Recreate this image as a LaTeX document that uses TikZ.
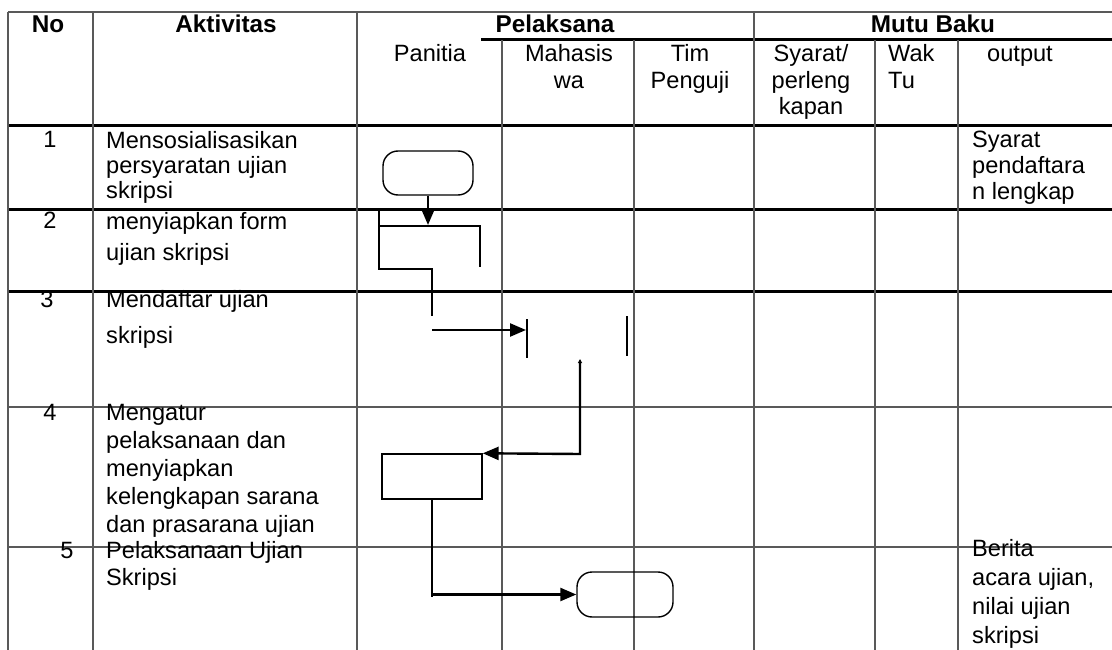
\documentclass[tikz,border=0pt]{standalone}
\usepackage{fontspec}
\setmainfont{Liberation Sans}
\setlength{\parindent}{0pt}
\usetikzlibrary{arrows.meta}
\tikzset{
  gridthin/.style={line width=1.2pt, draw=black!65},
  gridthick/.style={line width=3pt, draw=black},
  txt/.style={font=\fontsize{23.6}{26.5}\selectfont, inner sep=0pt, anchor=base west, align=left},
  ctxt/.style={font=\fontsize{23.6}{26.5}\selectfont, inner sep=0pt, anchor=base, align=center},
  hd/.style={font=\fontsize{24.3}{26.5}\selectfont\bfseries, inner sep=0pt, anchor=base},
  flow/.style={line width=2.4pt, draw=black},
  tip/.style={-{Triangle[length=16pt,width=13pt]}},
  term/.style={draw, line width=1.4pt, rounded corners=15pt, minimum width=90pt, minimum height=44pt, inner sep=0pt},
  procbox/.style={draw, line width=1.4pt, minimum width=100pt, minimum height=45pt, inner sep=0pt}
}
\begin{document}
\begin{tikzpicture}[x=1pt,y=-1pt]
\useasboundingbox (0,0) rectangle (1112,650);
% table grid
\draw[gridthin] (8,12) -- (1112,12);
\draw[gridthick] (481,40) -- (1112,40);
\draw[gridthick] (8,126) -- (1112,126);
\draw[gridthick] (8,210) -- (1112,210);
\draw[gridthick] (8,291) -- (1112,291);
\draw[gridthin] (8,407) -- (1112,407);
\draw[gridthin] (8,547) -- (1112,547);
\foreach \x in {8,93,357,754} \draw[gridthin] (\x,12) -- (\x,650);
\foreach \x in {502,634,875,958} \draw[gridthin] (\x,40) -- (\x,650);
% header (multi-line nodes are anchored at the baseline of their last line)
\node[hd] (hNo) at (48,33) {No};
\node[hd] (hAkt) at (226,33) {Aktivitas};
\node[hd] (hPel) at (555,33) {Pelaksana};
\node[hd] (hMutu) at (933,33) {Mutu Baku};
\node[ctxt] (hPan) at (430,62) {Panitia};
\node[ctxt] (hMhs) at (569,88.5) {Mahasis\\wa};
\node[ctxt] (hTim) at (690,88.5) {Tim\\Penguji};
\node[ctxt] (hSya) at (811,115) {Syarat/\\perleng\\kapan};
\node[txt] (hWak) at (888,88.5) {Wak\\Tu};
\node[ctxt] (hOut) at (1020,62) {output};
% rows
\node[ctxt] (n1) at (50,148) {1};
\node[txt, font=\fontsize{23.6}{25.5}\selectfont] (a1) at (106,199) {Mensosialisasikan\\persyaratan ujian\\skripsi};
\node[txt, font=\fontsize{23.6}{26}\selectfont] (o1) at (972,200) {Syarat\\pendaftara\\n lengkap};
\node[ctxt] (n2) at (50,229) {2};
\node[txt, font=\fontsize{23.6}{31}\selectfont] (a2) at (106,260) {menyiapkan form\\ujian skripsi};
\node[ctxt] (n3) at (47,307) {3};
\node[txt, font=\fontsize{23.6}{36}\selectfont] (a3) at (106,343) {Mendaftar ujian\\skripsi};
\node[ctxt] (n4) at (50,420) {4};
\node[txt, font=\fontsize{23.6}{28}\selectfont] (a4) at (106,532) {Mengatur\\pelaksanaan dan\\menyiapkan\\kelengkapan sarana\\dan prasarana ujian};
\node[ctxt] (n5) at (67,558) {5};
\node[txt, font=\fontsize{23.6}{27}\selectfont] (a5) at (106,585) {Pelaksanaan Ujian\\Skripsi};
\node[txt, font=\fontsize{23.6}{28.7}\selectfont] (o5) at (972,643) {Berita\\acara ujian,\\nilai ujian\\skripsi};
% flow shapes
\node[term] (t1) at (428,173) {};
\coordinate (c2in) at (428,225);
\draw[flow,tip] (t1.south) -- (c2in);
\draw[flow] (379,210) -- (379,269) -- (432,269) -- (432,316);
\draw[flow] (379,226) -- (480,226) -- (480,267);
\coordinate (a3s) at (432,330);
\coordinate (a3e) at (526,330);
\draw[flow,tip] (a3s) -- (a3e);
\draw[flow] (527,319) -- (527,358);
\draw[flow] (627,316) -- (627,356);
\node[procbox] (p4) at (432,476.5) {};
\coordinate (r3) at (580,359);
\draw[flow, {Triangle[length=4pt,width=4pt]}-{Triangle[length=16pt,width=13pt]}] (r3) -- (580,454) -- (p4.north east);
\node[term, minimum width=96pt, minimum height=45pt] (t2) at (625,594.5) {};
\coordinate (j5) at (432,597);
\draw[flow] (p4.south) -- (j5);
\draw[flow,tip] (432,594.5) -- (t2.west);
\end{tikzpicture}
\end{document}
